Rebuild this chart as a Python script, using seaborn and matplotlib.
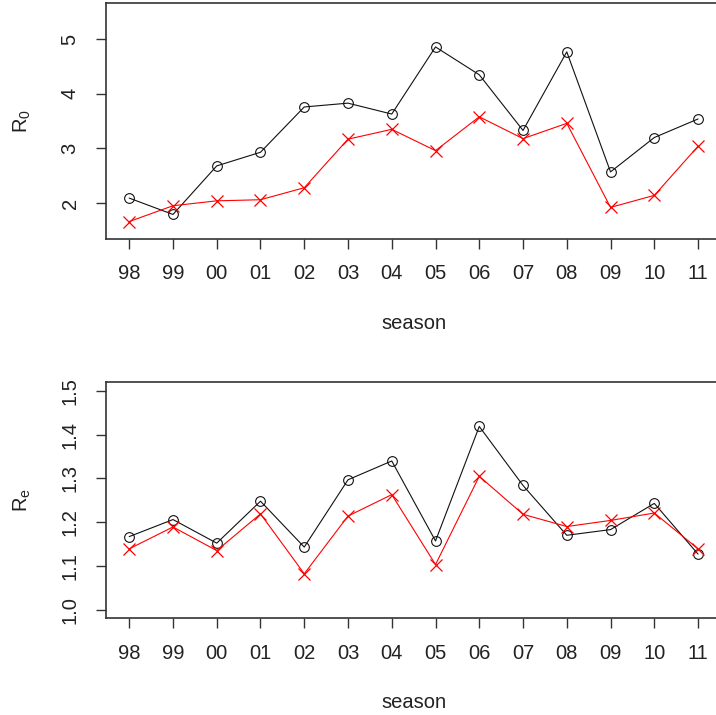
import numpy as np
import pandas as pd
import matplotlib
matplotlib.use("Agg")
import matplotlib.pyplot as plt
import seaborn as sns

# seasons 1998/99 .. 2011/12
season = ["98", "99", "00", "01", "02", "03", "04", "05", "06", "07", "08", "09", "10", "11"]

# R0 estimates (black circles, red crosses)
r0_black = [2.09, 1.79, 2.68, 2.93, 3.76, 3.83, 3.63, 4.86, 4.35, 3.33, 4.77, 2.57, 3.20, 3.54]
r0_red = [1.66, 1.95, 2.04, 2.06, 2.28, 3.17, 3.35, 2.96, 3.58, 3.18, 3.46, 1.92, 2.14, 3.04]

# Re estimates
re_black = [1.167, 1.206, 1.152, 1.248, 1.143, 1.297, 1.340, 1.157, 1.419, 1.284, 1.170, 1.183, 1.243, 1.127]
re_red = [1.139, 1.189, 1.135, 1.219, 1.082, 1.214, 1.263, 1.103, 1.305, 1.218, 1.190, 1.204, 1.221, 1.139]

r0_ticks = [2, 3, 4, 5]
re_ticks = [1.0, 1.1, 1.2, 1.3, 1.4, 1.5]

sns.set_style("white")
plt.rcParams['font.family'] = ['Liberation Sans', 'DejaVu Sans']
plt.rcParams['mathtext.fontset'] = 'custom'
plt.rcParams['mathtext.rm'] = 'Liberation Sans'
plt.rcParams['mathtext.it'] = 'Liberation Sans'

pos = np.arange(1, len(season) + 1)
df = pd.DataFrame({"pos": pos, "r0_black": r0_black, "r0_red": r0_red,
                   "re_black": re_black, "re_red": re_red})

fig = plt.figure(figsize=(7.16, 7.15), dpi=100)
ax1 = fig.add_axes([0.1487, 0.6657, 0.858, 0.3297])
ax2 = fig.add_axes([0.1487, 0.1352, 0.858, 0.3301])

fs = 14.5
tick_col = "#222222"


def draw_panel(ax, black, red, ylim, yticks, yfmt, ylab):
    sns.lineplot(data=df, x="pos", y=black, ax=ax, color="#111111", linewidth=0.8,
                 marker="o", markersize=7, markerfacecolor="none",
                 markeredgecolor="#111111", markeredgewidth=0.8)
    sns.lineplot(data=df, x="pos", y=red, ax=ax, color="#ff0000", linewidth=0.8,
                 marker="x", markersize=8, markeredgecolor="#ff0000",
                 markeredgewidth=0.9)
    ax.set_xlim(0.48, 14.52)
    ax.set_ylim(*ylim)
    ax.set_xticks(pos)
    ax.set_xticklabels(season, fontsize=fs, color=tick_col)
    ax.set_yticks(yticks)
    ax.set_yticklabels([yfmt.format(v) for v in yticks], fontsize=fs, color=tick_col,
                       rotation=90, va="center", ha="center")
    ax.tick_params(axis="x", length=7.2, width=1.0, color="#333333", pad=11, bottom=True)
    ax.tick_params(axis="y", length=7.2, width=1.0, color="#333333", pad=19, left=True)
    for sp in ax.spines.values():
        sp.set_color("#333333")
        sp.set_linewidth(1.2)
    ax.set_xlabel("season", fontsize=fs, color=tick_col, labelpad=22)
    ax.set_ylabel(ylab, fontsize=fs, color=tick_col, labelpad=20)
    ax.grid(False)


draw_panel(ax1, "r0_black", "r0_red", (1.34, 5.66), r0_ticks, "{:d}", r"$\mathregular{R_0}$")
draw_panel(ax2, "re_black", "re_red", (0.98, 1.52), re_ticks, "{:.1f}", r"$\mathregular{R_e}$")

fig.savefig("out.png", dpi=100)
